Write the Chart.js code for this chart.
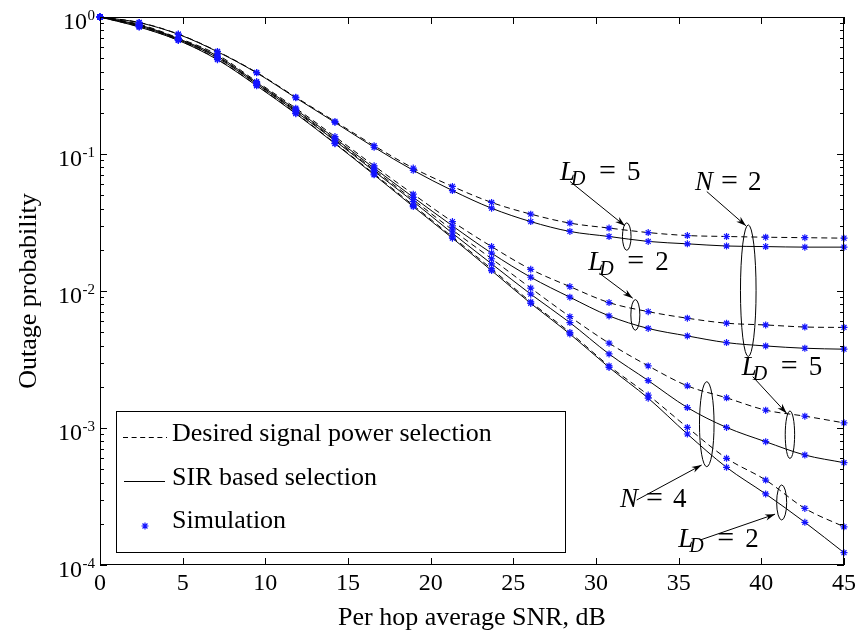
<!DOCTYPE html>
<html><head><meta charset="utf-8">
<script src="https://cdn.jsdelivr.net/npm/chart.js@4.4.1/dist/chart.umd.min.js"></script>
<style>html,body{margin:0;padding:0;background:#fff;}#wrap{width:859px;height:634px;position:relative;}</style>
</head><body><div id="wrap"><canvas id="c" width="859" height="634"></canvas></div>
<script>
// ---- data ----
const snrDb = [0, 2.368, 4.737, 7.105, 9.474, 11.842, 14.211, 16.579, 18.947, 21.316, 23.684, 26.053, 28.421, 30.789, 33.158, 35.526, 37.895, 40.263, 42.632, 45];
const xTickValues = [0, 5, 10, 15, 20, 25, 30, 35, 40, 45];
const yTickExponents = [0, -1, -2, -3, -4];

const dspN2LD5 = [1, 0.913, 0.751, 0.561, 0.394, 0.260, 0.173, 0.115, 0.0789, 0.0580, 0.0443, 0.0364, 0.0313, 0.0288, 0.0267, 0.0254, 0.0250, 0.0247, 0.0245, 0.0243];
const sirN2LD5 = [1, 0.910, 0.748, 0.558, 0.391, 0.257, 0.170, 0.112, 0.0760, 0.0541, 0.0402, 0.0321, 0.0272, 0.0250, 0.0230, 0.0221, 0.0213, 0.0211, 0.0209, 0.0209];
const dspN2LD2 = [1, 0.886, 0.702, 0.530, 0.338, 0.216, 0.134, 0.0820, 0.0509, 0.0321, 0.0211, 0.0144, 0.01077, 0.00823, 0.00707, 0.00633, 0.00582, 0.00565, 0.00546, 0.00542];
const sirN2LD2 = [1, 0.876, 0.695, 0.519, 0.332, 0.211, 0.130, 0.0789, 0.0483, 0.0299, 0.0189, 0.0126, 0.00901, 0.00658, 0.00533, 0.00470, 0.00420, 0.00397, 0.00382, 0.00376];
const dspN4LD5 = [1, 0.868, 0.690, 0.511, 0.328, 0.207, 0.127, 0.0766, 0.0464, 0.0279, 0.0172, 0.0105, 0.0065, 0.00416, 0.00284, 0.00203, 0.00166, 0.00135, 0.00122, 0.00109];
const sirN4LD5 = [1, 0.861, 0.686, 0.504, 0.324, 0.204, 0.125, 0.0749, 0.0450, 0.0264, 0.0158, 0.00948, 0.00588, 0.00347, 0.00222, 0.00141, 0.00101, 0.000794, 0.000635, 0.000558];
const dspN4LD2 = [1, 0.849, 0.677, 0.492, 0.317, 0.199, 0.120, 0.0716, 0.0422, 0.0248, 0.0145, 0.00832, 0.00498, 0.00284, 0.00174, 0.00101, 0.000601, 0.000417, 0.000259, 0.000190];
const sirN4LD2 = [1, 0.845, 0.675, 0.488, 0.315, 0.197, 0.119, 0.0705, 0.0413, 0.0243, 0.0141, 0.00812, 0.00486, 0.00277, 0.00165, 0.000904, 0.000516, 0.000330, 0.000205, 0.000123];

const legendLabels = ['Desired signal power selection', 'SIR based selection', 'Simulation'];
const xTitle = 'Per hop average SNR, dB';
const yTitle = 'Outage probability';

// ---- build ----
const curves = [
  {v: dspN2LD5, dashed: true}, {v: sirN2LD5, dashed: false},
  {v: dspN2LD2, dashed: true}, {v: sirN2LD2, dashed: false},
  {v: dspN4LD5, dashed: true}, {v: sirN4LD5, dashed: false},
  {v: dspN4LD2, dashed: true}, {v: sirN4LD2, dashed: false}
];
const toPts = v => snrDb.map((x, i) => ({x: x, y: v[i]}));
const datasets = [];
curves.forEach(c => {
  datasets.push({data: toPts(c.v), borderColor: '#000', borderWidth: 1, borderDash: c.dashed ? [6, 4] : [],
    pointRadius: 0, cubicInterpolationMode: 'monotone', fill: false, order: 2, clip: false});
});
curves.forEach(c => {
  datasets.push({data: toPts(c.v), showLine: false, pointStyle: 'star', pointRadius: 3.5,
    pointBorderColor: '#1414ff', pointBackgroundColor: '#1414ff', pointBorderWidth: 1.2, order: 1, clip: false});
});

// annotations in data coordinates (ellipse radii in px)
const annotations = [
  {sym: 'L', sub: 'D', num: '5', tx: 27.82, ty: 0.0648, ax0: 28.43, ay0: 0.0630, ax1: 31.75, ay1: 0.0299, ex: 31.86, ey: 0.02496, rx: 4.3, ry: 13.7},
  {sym: 'N', sub: '', num: '2', tx: 35.99, ty: 0.0548, ax0: 36.70, ay0: 0.0532, ax1: 39.07, ay1: 0.0299, ex: 39.21, ey: 0.01005, rx: 7.8, ry: 65.8},
  {sym: 'L', sub: 'D', num: '2', tx: 29.53, ty: 0.01426, ax0: 30.20, ay0: 0.01349, ax1: 32.22, ay1: 0.00886, ex: 32.38, ey: 0.00669, rx: 4.5, ry: 15.3},
  {sym: 'L', sub: 'D', num: '5', tx: 38.81, ty: 0.002438, ax0: 39.48, ay0: 0.002369, ax1: 41.53, ay1: 0.00128, ex: 41.73, ey: 0.000893, rx: 4.7, ry: 23.7},
  {sym: 'N', sub: '', num: '4', tx: 31.45, ty: 0.000266, ax0: 32.46, ay0: 0.000298, ax1: 36.39, ay1: 0.000537, ex: 36.70, ey: 0.001066, rx: 7.3, ry: 42.5},
  {sym: 'L', sub: 'D', num: '2', tx: 34.98, ty: 0.0001358, ax0: 36.29, ay0: 0.000152, ax1: 40.83, ay1: 0.000235, ex: 41.23, ey: 0.000286, rx: 5, ry: 17.5}
];

const FONT = '"Liberation Serif", "Times New Roman", serif';

function drawStar(ctx, x, y, r) {
  ctx.beginPath();
  for (let k = 0; k < 4; k++) {
    const a = k * Math.PI / 4;
    ctx.moveTo(x - r * Math.cos(a), y - r * Math.sin(a));
    ctx.lineTo(x + r * Math.cos(a), y + r * Math.sin(a));
  }
  ctx.stroke();
}

function arrow(ctx, x0, y0, x1, y1) {
  ctx.beginPath(); ctx.moveTo(x0, y0); ctx.lineTo(x1, y1); ctx.stroke();
  const ang = Math.atan2(y1 - y0, x1 - x0), L = 10, W = 3.2;
  ctx.beginPath();
  ctx.moveTo(x1, y1);
  ctx.lineTo(x1 - L * Math.cos(ang) + W * Math.sin(ang), y1 - L * Math.sin(ang) - W * Math.cos(ang));
  ctx.lineTo(x1 - 0.7 * L * Math.cos(ang), y1 - 0.7 * L * Math.sin(ang));
  ctx.lineTo(x1 - L * Math.cos(ang) - W * Math.sin(ang), y1 - L * Math.sin(ang) + W * Math.cos(ang));
  ctx.closePath(); ctx.fill();
}

const decor = {
  id: 'decor',
  beforeDatasetsDraw(chart) {
    const ctx = chart.ctx, a = chart.chartArea;
    ctx.save();
    ctx.fillStyle = '#fff';
    ctx.fillRect(a.left, a.top, a.right - a.left, a.bottom - a.top);
    ctx.restore();
  },
  afterDatasetsDraw(chart) {
    const ctx = chart.ctx, a = chart.chartArea, xs = chart.scales.x, ys = chart.scales.y;
    ctx.save();
    ctx.strokeStyle = '#000'; ctx.fillStyle = '#000'; ctx.lineWidth = 1; ctx.setLineDash([]);
    // frame
    ctx.strokeRect(Math.round(a.left) + 0.5, Math.round(a.top) + 0.5, Math.round(a.right - a.left) - 1, Math.round(a.bottom - a.top) - 1);
    // x ticks
    ctx.beginPath();
    xTickValues.forEach(v => {
      const px = Math.round(xs.getPixelForValue(v)) + 0.5;
      ctx.moveTo(px, a.bottom); ctx.lineTo(px, a.bottom - 7);
      ctx.moveTo(px, a.top); ctx.lineTo(px, a.top + 7);
    });
    // y ticks (major + minor)
    yTickExponents.forEach(e => {
      const py = Math.round(ys.getPixelForValue(Math.pow(10, e))) + 0.5;
      ctx.moveTo(a.left, py); ctx.lineTo(a.left + 7, py);
      ctx.moveTo(a.right, py); ctx.lineTo(a.right - 7, py);
      if (e < 0) {
        for (let k = 2; k <= 9; k++) {
          const pm = Math.round(ys.getPixelForValue(k * Math.pow(10, e))) + 0.5;
          ctx.moveTo(a.left, pm); ctx.lineTo(a.left + 4, pm);
          ctx.moveTo(a.right, pm); ctx.lineTo(a.right - 4, pm);
        }
      }
    });
    ctx.stroke();
    // x tick labels
    ctx.font = '24px ' + FONT; ctx.textAlign = 'center'; ctx.textBaseline = 'alphabetic';
    xTickValues.forEach(v => ctx.fillText(String(v), xs.getPixelForValue(v), a.bottom + 25));
    // y tick labels 10^e
    yTickExponents.forEach(e => {
      const py = ys.getPixelForValue(Math.pow(10, e));
      const es = e === 0 ? '0' : '-' + (-e);
      ctx.font = '15px ' + FONT; ctx.textAlign = 'left';
      const ew = ctx.measureText(es).width;
      const right = a.left - 5;
      ctx.fillText(es, right - ew, py + 3);
      ctx.font = '24px ' + FONT; ctx.textAlign = 'right';
      ctx.fillText('10', right - ew - 0.5, py + 12);
    });
    // axis titles
    ctx.font = '26px ' + FONT; ctx.textAlign = 'center'; ctx.textBaseline = 'alphabetic';
    ctx.fillText(xTitle, (a.left + a.right) / 2, a.bottom + 60);
    ctx.save();
    ctx.translate(36, (a.top + a.bottom) / 2); ctx.rotate(-Math.PI / 2);
    ctx.fillText(yTitle, 0, 0);
    ctx.restore();
    // annotations
    annotations.forEach(an => {
      const ex = xs.getPixelForValue(an.ex), ey = ys.getPixelForValue(an.ey);
      ctx.beginPath(); ctx.ellipse(ex, ey, an.rx, an.ry, 0, 0, Math.PI * 2); ctx.stroke();
      arrow(ctx, xs.getPixelForValue(an.ax0), ys.getPixelForValue(an.ay0), xs.getPixelForValue(an.ax1), ys.getPixelForValue(an.ay1));
      const tx = xs.getPixelForValue(an.tx), ty = ys.getPixelForValue(an.ty);
      ctx.textAlign = 'left'; ctx.textBaseline = 'alphabetic';
      ctx.font = 'italic 27px ' + FONT;
      ctx.fillText(an.sym, tx, ty);
      let eqX, numX;
      if (an.sub) {
        ctx.font = 'italic 20px ' + FONT;
        ctx.fillText(an.sub, tx + 11, ty + 5);
        eqX = tx + 39; numX = tx + 67;
      } else {
        eqX = tx + 26; numX = tx + 53;
      }
      ctx.font = '30px ' + FONT;
      ctx.fillText('=', eqX, ty);
      ctx.font = '27px ' + FONT;
      ctx.fillText(an.num, numX, ty);
    });
    // legend box
    const lx = a.left + 16, ly = 411, lw = 449, lh = 141;
    ctx.fillStyle = '#fff'; ctx.fillRect(lx, ly, lw, lh);
    ctx.fillStyle = '#000';
    ctx.strokeRect(lx + 0.5, ly + 0.5, lw, lh);
    ctx.beginPath(); ctx.setLineDash([5, 3.6]);
    ctx.moveTo(lx + 7, 437.5); ctx.lineTo(lx + 51, 437.5); ctx.stroke();
    ctx.setLineDash([]);
    ctx.beginPath(); ctx.moveTo(lx + 8, 481.5); ctx.lineTo(lx + 49, 481.5); ctx.stroke();
    ctx.strokeStyle = '#1414ff'; ctx.lineWidth = 1.2;
    drawStar(ctx, lx + 29, 526, 3.5);
    ctx.strokeStyle = '#000'; ctx.lineWidth = 1;
    ctx.font = '26px ' + FONT; ctx.textAlign = 'left';
    ctx.fillText(legendLabels[0], lx + 56, 441);
    ctx.fillText(legendLabels[1], lx + 56, 485);
    ctx.fillText(legendLabels[2], lx + 56, 528);
    ctx.restore();
  }
};

new Chart(document.getElementById('c'), {
  type: 'line',
  data: {datasets: datasets},
  options: {
    responsive: false, animation: false, devicePixelRatio: 1, events: [],
    layout: {padding: {top: 17, right: 15, left: 0, bottom: 0}},
    plugins: {legend: {display: false}, tooltip: {enabled: false}, title: {display: false}},
    scales: {
      x: {type: 'linear', min: 0, max: 45, grid: {display: false}, border: {display: false}, ticks: {display: false},
          afterFit(s) { s.height = 69; }},
      y: {type: 'logarithmic', min: 1e-4, max: 1, grid: {display: false}, border: {display: false}, ticks: {display: false},
          afterFit(s) { s.width = 100; }}
    }
  },
  plugins: [decor]
});
</script></body></html>
